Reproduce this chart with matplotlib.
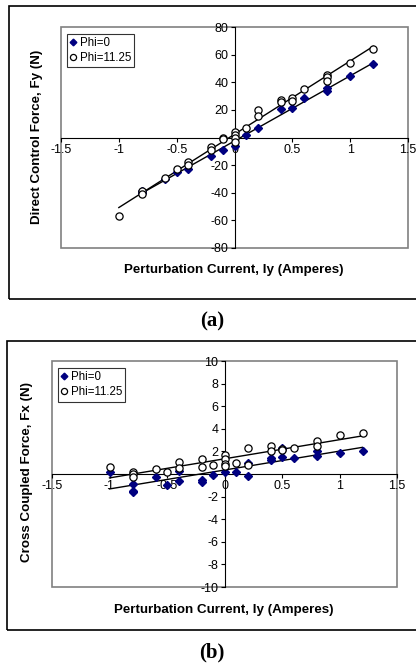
import numpy as np
import matplotlib
matplotlib.use("Agg")
import matplotlib.pyplot as plt
from matplotlib.patches import Rectangle

# ---- data (a): direct control force ----
a_x0 = [-0.8, -0.8, -0.6, -0.5, -0.4, -0.2, -0.1, 0.0, 0.1, 0.2, 0.4, 0.5, 0.6, 0.8, 0.8, 1.0, 1.2]
a_y0 = [-39, -40, -30, -25, -22.5, -13.2, -9.4, -6.3, 1.7, 7.2, 20.5, 21.2, 28.4, 35.9, 34, 44.5, 52.9]
a_x1 = [-1.0, -0.8, -0.8, -0.6, -0.5, -0.4, -0.4, -0.2, -0.2, -0.1, -0.1, 0.0, 0.0, 0.0, 0.0,
        0.1, 0.2, 0.2, 0.4, 0.4, 0.5, 0.5, 0.6, 0.8, 0.8, 0.8, 1.0, 1.2]
a_y1 = [-57, -38.7, -40.7, -29.6, -22.6, -18, -20, -7.2, -8.7, 0, -1, 4, 2, 0, -3,
        6.7, 20.2, 15.6, 27.4, 26, 28.6, 26.2, 35.4, 45, 43.5, 41, 53.9, 63.8]

# ---- data (b): cross coupled force ----
b_x0 = [-1.0, -0.8, -0.8, -0.8, -0.6, -0.5, -0.4, -0.4, -0.2, -0.2, -0.1, 0.0, 0.1, 0.2, 0.2,
        0.4, 0.4, 0.5, 0.5, 0.6, 0.8, 0.8, 1.0, 1.2]
b_y0 = [0.18, -0.86, -1.6, -1.5, -0.3, -0.94, -0.65, 0.3, -0.5, -0.74, -0.06, 0.2, 0.18, -0.2, 1.0,
        1.27, 1.4, 1.53, 2.3, 1.39, 1.62, 2.0, 1.89, 2.04]
b_x1 = [-1.0, -0.8, -0.8, -0.8, -0.6, -0.5, -0.4, -0.4, -0.2, -0.2, -0.1, 0.0, 0.0, 0.0, 0.0,
        0.1, 0.2, 0.2, 0.4, 0.4, 0.5, 0.5, 0.6, 0.8, 0.8, 1.0, 1.2]
b_y1 = [0.59, 0.15, 0.0, -0.3, 0.47, 0.18, 1.1, 0.5, 1.3, 0.65, 0.83, 1.65, 1.3, 0.9, 0.68,
        1.0, 2.33, 0.83, 2.45, 2.0, 2.24, 2.15, 2.33, 2.92, 2.48, 3.48, 3.63]

x_ticks = [-1.5, -1, -0.5, 0, 0.5, 1, 1.5]
x_labels = ["-1.5", "-1", "-0.5", "0", "0.5", "1", "1.5"]
labels = ["Phi=0", "Phi=11.25"]

plt.rcParams['font.family'] = ['Liberation Sans', 'DejaVu Sans']

W, H = 416, 668
fig = plt.figure(figsize=(W / 100, H / 100), dpi=100)


def px_axes(l, t, r, b):
    return fig.add_axes([l / W, 1 - b / H, (r - l) / W, (b - t) / H])


def panel(ax, xs0, ys0, xs1, ys1, ylim, ystep):
    ax.plot(xs0, ys0, 'D', color='#000080', markersize=4.0, zorder=3, label=labels[0])
    ax.plot(xs1, ys1, 'o', mfc='white', mec='black', mew=0.9, markersize=5.2, zorder=4,
            label=labels[1])
    for xs, ys in ((xs0, ys0), (xs1, ys1)):
        k, c = np.polyfit(xs, ys, 1)
        xx = np.array([min(xs), max(xs)])
        ax.plot(xx, k * xx + c, color='black', lw=1.0, zorder=2)
    ax.set_xlim(-1.5, 1.5)
    ax.set_ylim(-ylim, ylim)
    ax.set_xticks(x_ticks)
    ax.set_xticklabels(x_labels)
    yt = [v for v in np.arange(-ylim, ylim + ystep, ystep) if v != 0]
    ax.set_yticks(yt)
    ax.set_yticklabels([str(int(v)) for v in yt])
    for s in ('top', 'right'):
        ax.spines[s].set_visible(False)
    ax.spines['left'].set_position('zero')
    ax.spines['bottom'].set_position('zero')
    ax.tick_params(direction='out', length=3, width=0.8, labelsize=9, pad=1.5)
    ax.add_patch(Rectangle((0, 0), 1, 1, transform=ax.transAxes, fill=False,
                           edgecolor='#808080', lw=1.2, zorder=0, clip_on=False))
    leg = ax.legend(loc='upper left', bbox_to_anchor=(0.017, 0.97), fontsize=8.3,
                    frameon=True, fancybox=False, edgecolor='black', handlelength=0.5,
                    handletextpad=0.3, borderpad=0.3, labelspacing=0.25, borderaxespad=0,
                    markerscale=0.85)
    leg.get_frame().set_linewidth(0.8)


ax1 = px_axes(61, 27, 408, 248)
panel(ax1, a_x0, a_y0, a_x1, a_y1, 80, 20)
ax2 = px_axes(52, 361, 397, 587)
panel(ax2, b_x0, b_y0, b_x1, b_y1, 10, 2)

lab = dict(fontsize=9.6, fontweight='bold', ha='center', va='center')
fig.text(234 / W, 1 - 270 / H, "Perturbation Current, Iy (Amperes)", **lab)
fig.text(37 / W, 1 - 137 / H, "Direct Control Force, Fy (N)", rotation=90, **lab)
fig.text(224 / W, 1 - 610 / H, "Perturbation Current, Iy (Amperes)", **lab)
fig.text(27 / W, 1 - 472 / H, "Cross Coupled Force, Fx (N)", rotation=90, **lab)

# outer boxes
for l, t, r, b in ((9, 6, 418, 299), (7, 341, 418, 630)):
    fig.patches.append(Rectangle((l / W, 1 - b / H), (r - l) / W, (b - t) / H,
                                 transform=fig.transFigure, fill=False,
                                 edgecolor='black', lw=1.2))

cap = dict(fontsize=15, fontweight='bold', ha='center', va='center',
           family=['Liberation Serif', 'DejaVu Serif'])
fig.text(212 / W, 1 - 321 / H, "(a)", **cap)
fig.text(212 / W, 1 - 652 / H, "(b)", **cap)

fig.savefig("out.png", dpi=100)
